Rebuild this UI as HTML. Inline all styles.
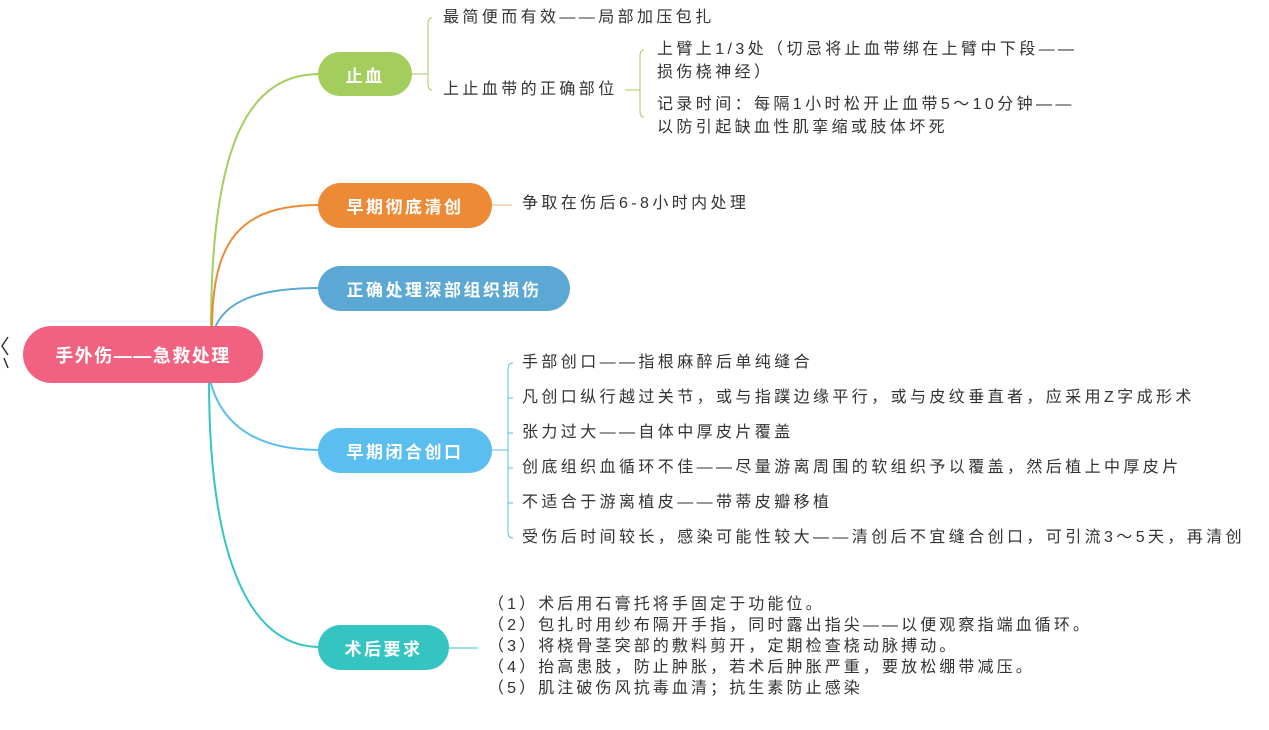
<!DOCTYPE html>
<html><head><meta charset="utf-8"><style>
body{margin:0;width:1269px;height:730px;background:#fff;position:relative;overflow:hidden;font-family:"Liberation Sans","Noto Sans CJK SC",sans-serif;}
.n{position:absolute;color:#fff;font-weight:bold;font-size:17px;display:flex;align-items:center;justify-content:center;border-radius:23px;letter-spacing:2.5px;}
.t{position:absolute;color:#333;font-size:16px;letter-spacing:3.4px;white-space:nowrap;line-height:18px;}
.p{letter-spacing:3.1px;}
svg{position:absolute;left:0;top:0;}
</style></head><body>
<svg width="1269" height="730" fill="none" stroke-width="2">
<path d="M211,330 C211,140 250,74 320,74" stroke="#a3cd5d"/>
<path d="M212,330 C212,240 240,205 320,205" stroke="#ec8a35"/>
<path d="M214,330 C225,300 260,288 320,288" stroke="#5aa8d3"/>
<path d="M210,380 C220,420 250,450 320,450" stroke="#5bbef0"/>
<path d="M209,380 C209,560 250,647 320,647" stroke="#34c5c3"/>
<g stroke-width="1">
<path d="M412,74 H428 M432,18 Q428,18 428,24 V84 Q428,90 432,90" stroke="#a3cd5d"/>
<path d="M625,90 H640 M644,50 Q640,50 640,56 V111 Q640,117 644,117" stroke="#a3cd5d"/>
<path d="M492,205 H512" stroke="#f0b27a"/>
<path d="M492,450 H508 M513,363 Q508,363 508,369 V532 Q508,538 513,538 M508,398 H513 M508,433 H513 M508,468 H513 M508,503 H513" stroke="#5bbef0"/>
<path d="M449,648 H478" stroke="#34c5c3"/>
</g>
<path d="M8,337 L2,346 L8,355 M4,358 L8,368" stroke="#333" stroke-width="1.5"/>
</svg>
<div class="n" style="left:23px;top:326px;width:240px;height:57px;border-radius:29px;background:#f0627f;font-size:18px;letter-spacing:1.5px;">手外伤——急救处理</div>
<div class="n" style="left:318px;top:52px;width:94px;height:44px;background:#a3cd5d;">止血</div>
<div class="n" style="left:318px;top:183px;width:174px;height:45px;background:#ec8a35;">早期彻底清创</div>
<div class="n" style="left:318px;top:266px;width:252px;height:45px;background:#5aa8d3;">正确处理深部组织损伤</div>
<div class="n" style="left:318px;top:428px;width:174px;height:45px;background:#5bbef0;">早期闭合创口</div>
<div class="n" style="left:318px;top:625px;width:131px;height:45px;background:#34c5c3;">术后要求</div>
<div class="t" style="left:443px;top:9px;">最简便而有效——局部加压包扎</div>
<div class="t" style="left:443px;top:81px;">上止血带的正确部位</div>
<div class="t" style="left:657px;top:41px;">上臂上1/3处（切忌将止血带绑在上臂中下段——</div>
<div class="t" style="left:657px;top:64px;">损伤桡神经）</div>
<div class="t" style="left:657px;top:96px;">记录时间：每隔1小时松开止血带5～10分钟——</div>
<div class="t" style="left:657px;top:119px;">以防引起缺血性肌挛缩或肢体坏死</div>
<div class="t" style="left:522px;top:195px;">争取在伤后6-8小时内处理</div>
<div class="t" style="left:522px;top:354px;">手部创口——指根麻醉后单纯缝合</div>
<div class="t" style="left:522px;top:389px;">凡创口纵行越过关节，或与指蹼边缘平行，或与皮纹垂直者，应采用Z字成形术</div>
<div class="t" style="left:522px;top:424px;">张力过大——自体中厚皮片覆盖</div>
<div class="t" style="left:522px;top:459px;">创底组织血循环不佳——尽量游离周围的软组织予以覆盖，然后植上中厚皮片</div>
<div class="t" style="left:522px;top:494px;">不适合于游离植皮——带蒂皮瓣移植</div>
<div class="t" style="left:522px;top:529px;">受伤后时间较长，感染可能性较大——清创后不宜缝合创口，可引流3～5天，再清创</div>
<div class="t p" style="left:488px;top:596px;">（1）术后用石膏托将手固定于功能位。</div>
<div class="t p" style="left:488px;top:617px;">（2）包扎时用纱布隔开手指，同时露出指尖——以便观察指端血循环。</div>
<div class="t p" style="left:488px;top:638px;">（3）将桡骨茎突部的敷料剪开，定期检查桡动脉搏动。</div>
<div class="t p" style="left:488px;top:659px;">（4）抬高患肢，防止肿胀，若术后肿胀严重，要放松绷带减压。</div>
<div class="t p" style="left:488px;top:680px;">（5）肌注破伤风抗毒血清；抗生素防止感染</div>
</body></html>
